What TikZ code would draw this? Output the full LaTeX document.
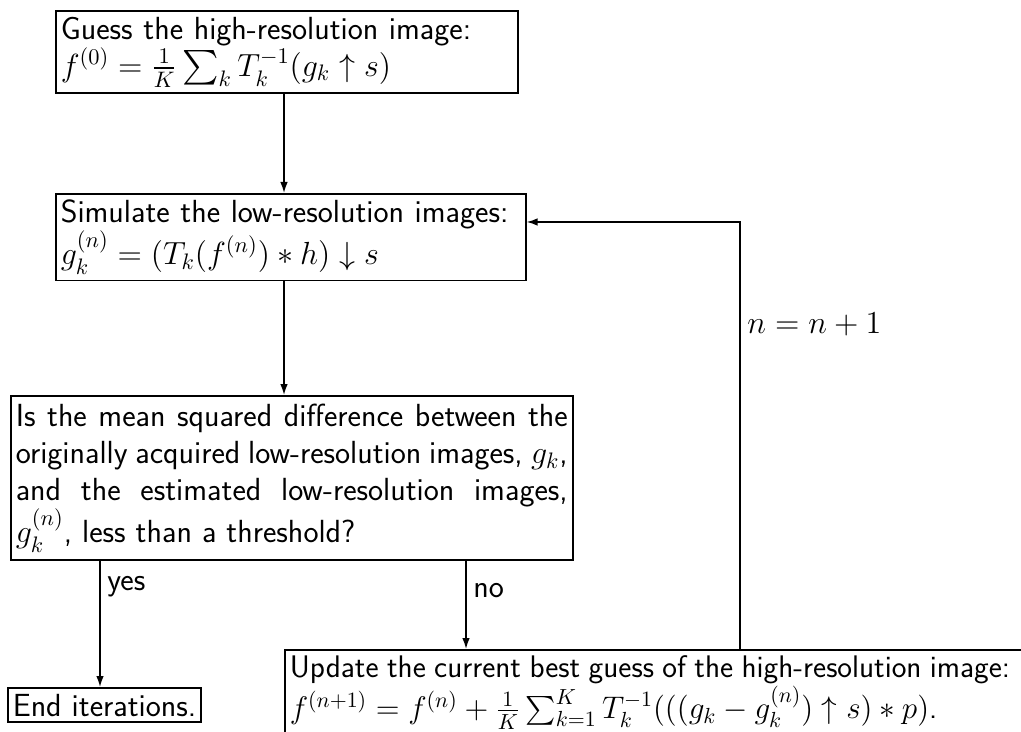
\RequirePackage{fix-cm}
\documentclass[tikz,border=0pt]{standalone}
\usepackage{amsmath}
\usepackage{tikz}
\usetikzlibrary{arrows.meta}

\begin{document}
\begin{tikzpicture}[x=0.5pt, y=-0.5pt,
  stepbox/.style={draw, line width=0.8pt, inner xsep=2.5pt, inner ysep=3pt, anchor=north west, align=left, font=\sffamily\fontsize{16}{18.5}\selectfont},
  flowarrow/.style={-{Latex[length=5.5pt, width=3.8pt]}, line width=0.8pt},
  flowlabel/.style={font=\sffamily\fontsize{16}{18.5}\selectfont}]
\clip (0,0) rectangle (1021,732);

% Boxes
\node[stepbox, text width=226pt] (guess) at (55,10) {Guess the high-resolution image:\\
  $f^{(0)} = \frac{1}{K}\sum_k T_k^{-1}(g_k \uparrow s)$};
\node[stepbox, text width=230pt] (simulate) at (55,193) {Simulate the low-resolution images:\\
  $g_k^{(n)} = (T_k(f^{(n)}) * h) \downarrow s$};
\node[stepbox, text width=276pt, align=justify, inner ysep=4pt] (test) at (10,395) {Is the mean squared difference between the\linebreak
  originally acquired low-resolution images, $g_k$,\linebreak
  and the estimated low-resolution images,\linebreak
  $g_k^{(n)}$, less than a threshold?};
\node[stepbox] (end) at (7,687) {End iterations.};
\node[stepbox, text width=380pt, font=\sffamily\fontsize{15.6}{18.5}\selectfont] (update) at (284,649) {\spaceskip=0.27em plus 0.1em\relax
  Update the current best guess of the high-resolution image:\\
  $f^{(n+1)} = f^{(n)} + \frac{1}{K}\sum_{k=1}^{K} T_k^{-1}(((g_k - g_k^{(n)}) \uparrow s) * p)$.};

% Columns of the connectors
\coordinate (mainx) at (284,0);
\coordinate (yesx) at (100,0);
\coordinate (nox) at (466,0);
\coordinate (loopx) at (740,0);
\coordinate (loopy) at (0,222);

% Arrows
\draw[flowarrow] (guess.south -| mainx) -- (simulate.north -| mainx);
\draw[flowarrow] (simulate.south -| mainx) -- (test.north -| mainx);
\draw[flowarrow] (test.south -| yesx) -- node[flowlabel, right, pos=0.2] {yes} (end.north -| yesx);
\draw[flowarrow] (test.south -| nox) -- node[flowlabel, right, pos=0.33] {no} (update.north -| nox);
\draw[flowarrow] (update.north -| loopx) -- node[flowlabel, right, pos=0.76] {$n = n + 1$} (loopx |- loopy) -- (simulate.east |- loopy);
\end{tikzpicture}
\end{document}
